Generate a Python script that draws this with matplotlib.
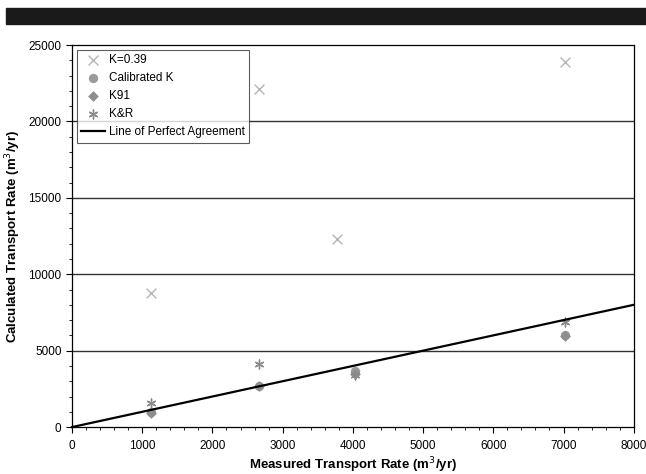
import numpy as np
import matplotlib.pyplot as plt
from matplotlib.patches import Rectangle

plt.rcParams['font.family'] = ['Liberation Sans', 'DejaVu Sans']

# measured vs calculated transport rates (m^3/yr)
measured = [1120, 2660, 4030, 7020]
k039_x = [1120, 2660, 3780, 7020]
k039_y = [8800, 22100, 12300, 23900]
calib_y = [1000, 2700, 3650, 6000]
k91_y = [900, 2700, 3500, 5950]
kr_y = [1600, 4150, 3400, 6900]
perfect = [0, 8000]

fig = plt.figure(figsize=(6.46, 4.74), dpi=100)
fig.patches.append(Rectangle((0.009, 0.950), 0.991, 0.033, transform=fig.transFigure,
                             color='#1a1a1a', zorder=0))
ax = fig.add_axes([0.1115, 0.099, 0.8695, 0.806])

for yv in [5000, 10000, 15000, 20000]:
    ax.axhline(yv, color='#333333', lw=1.0, zorder=1)

ax.scatter(k039_x, k039_y, marker='x', s=50, color='#b5b5b5', lw=1.0, label='K=0.39', zorder=3)
ax.scatter(measured, calib_y, marker='o', s=45, color='#9a9a9a', lw=0, label='Calibrated K', zorder=3)
ax.scatter(measured, k91_y, marker='D', s=30, color='#8e8e8e', lw=0, label='K91', zorder=3)
ax.scatter(measured, kr_y, marker=(6, 2, 0), s=40, color='#8a8a8a', lw=1.0, label='K&R', zorder=3)
ax.plot(perfect, perfect, color='black', lw=1.6, label='Line of Perfect Agreement',
        zorder=4, clip_on=False)

ax.set_xlim(0, 8000)
ax.set_ylim(0, 25000)
ax.set_xticks(np.arange(0, 8001, 1000))
ax.set_yticks(np.arange(0, 25001, 5000))
ax.set_xticks(np.arange(0, 8001, 200), minor=True)
ax.set_yticks(np.arange(0, 25001, 1000), minor=True)
ax.tick_params(axis='both', which='major', labelsize=8.5, length=4, width=0.8, direction='out')
ax.tick_params(axis='both', which='minor', length=2.5, width=0.6, direction='out')
ax.tick_params(axis='x', pad=5)
for s in ax.spines.values():
    s.set_linewidth(0.9)

ax.set_xlabel('Measured Transport Rate (m$^3$/yr)', fontsize=9.5, fontweight='bold', labelpad=3)
ax.set_ylabel('Calculated Transport Rate (m$^3$/yr)', fontsize=9.5, fontweight='bold', labelpad=4)

leg = ax.legend(loc='upper left', fontsize=8.5, frameon=True, fancybox=False, edgecolor='#333333',
                borderaxespad=0.3, handletextpad=0.3, labelspacing=0.5, handlelength=2.0,
                bbox_to_anchor=(0.002, 0.997))
leg.get_frame().set_linewidth(0.8)

fig.savefig('out.png', dpi=100)
